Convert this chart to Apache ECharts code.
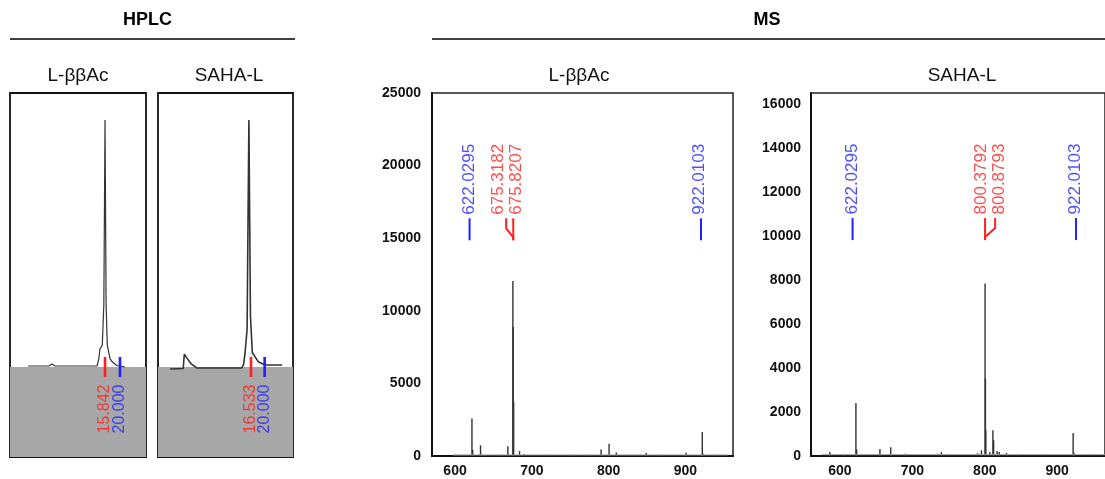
<!DOCTYPE html>
<html>
<head>
<meta charset="utf-8">
<script src="https://cdn.jsdelivr.net/npm/echarts@6/dist/echarts.min.js"></script>
<style>
  html, body { margin: 0; padding: 0; background: #fff; }
  #main { width: 1105px; height: 479px; }
</style>
</head>
<body>
<div id="main"></div>
<script>
// ---- HPLC traces (retention axis in arbitrary minutes, signal normalised to main peak) ----
const hplcTimeA   = [4.0, 8.6, 9.2, 9.9, 19.2, 19.6, 19.85, 20.36, 20.7, 20.96, 21.2, 21.46, 22.06, 22.5, 23.0, 23.54, 25.37];
const hplcSignalA = [0.0, 0.0, 0.008, 0.0, 0.0, 0.03, 0.07, 0.085, 0.25, 1.0, 0.25, 0.085, 0.03, 0.018, 0.01, 0.002, -0.004];
const hplcTimeB   = [2.67, 5.6, 5.85, 6.4, 7.3, 8.6, 18.6, 19.0, 19.33, 19.8, 20.2, 20.55, 20.96, 22.29, 23.78, 27.6];
const hplcSignalB = [-0.012, -0.01, 0.048, 0.033, 0.01, -0.008, -0.008, 0.005, 0.05, 0.15, 1.0, 0.2, 0.055, 0.017, 0.004, 0.004];
const hplcMarkA   = [20.96, 24.26];
const hplcMarkB   = [20.67, 23.7];
const hplcLabelsA = ['15.842', '20.000'];
const hplcLabelsB = ['16.533', '20.000'];

// ---- MS stick spectra ----
const msMzA  = [604, 612, 622.03, 623.0, 633.2, 640, 656, 668.8, 675.32, 675.82, 676.32, 684, 690, 720, 750, 770, 790.2, 800.6, 810, 830, 849, 870, 901, 922.01, 923, 940, 955];
const msIntA = [60, 80, 2580, 420, 740, 60, 80, 670, 12050, 8880, 3720, 340, 140, 80, 90, 80, 440, 850, 240, 90, 200, 90, 220, 1650, 150, 90, 80];
const msMzB  = [586, 605, 622.03, 623.0, 640, 655.2, 670.1, 690, 735, 740, 750, 790, 795.4, 800.38, 800.88, 801.38, 807, 811.2, 812.2, 817, 820, 830, 845, 880, 922.01, 923.0, 950];
const msIntB = [180, 60, 2410, 300, 70, 320, 400, 100, 100, 180, 90, 120, 260, 7840, 3520, 1170, 180, 1170, 714, 230, 180, 140, 80, 70, 1050, 150, 70];
const msBaseMzA = [597, 955];
const msBaseMzB = [575, 966];

// annotation labels: text, label m/z, colour index (0 red, 1 blue)
const msNotesA   = ['622.0295', '675.3182', '675.8207', '922.0103'];
const msNoteMzA  = [618.9, 656.2, 679.6, 918];
const msNoteColA = [1, 0, 0, 1];
const msNotesB   = ['622.0295', '800.3792', '800.8793', '922.0103'];
const msNoteMzB  = [617.4, 795.4, 820.1, 924.7];
const msNoteColB = [1, 0, 0, 1];
// leader lines (m/z, intensity)
const msLeadersA = [
  [[618.9, 16370], [618.9, 14855]],
  [[666.6, 16370], [666.6, 15682], [675.82, 15062], [675.82, 14855]],
  [[675.82, 16370], [675.82, 14855]],
  [[920.3, 16370], [920.3, 14855]]
];
const msLeaderColA = [1, 0, 0, 1];
const msLeadersB = [
  [[617.4, 10815], [617.4, 9815]],
  [[800.38, 10815], [800.38, 9815]],
  [[814.3, 10815], [814.3, 10360], [800.38, 9950], [800.38, 9815]],
  [[926, 10815], [926, 9815]]
];
const msLeaderColB = [1, 0, 0, 1];

const FONT = '"Liberation Sans", Arial, sans-serif';
const RED = '#ff1f1f', BLUE = '#1f1fff';
const COLS = [RED, BLUE];

const zip = (xs, ys) => xs.map((x, i) => [x, ys[i]]);

const chart = echarts.init(document.getElementById('main'));

function hplcSeries(idx, times, signal, marks, labels) {
  const out = [{
    type: 'line', xAxisIndex: idx, yAxisIndex: idx,
    data: zip(times, signal), symbol: 'none', z: 3,
    lineStyle: { color: '#333', width: idx === 0 ? 1.2 : 1.6 },
    markArea: {
      silent: true,
      itemStyle: { color: '#a7a7a7' },
      data: [[{ yAxis: -0.37 }, { yAxis: -0.004 }]]
    }
  }];
  marks.forEach((t, i) => {
    out.push({
      type: 'line', xAxisIndex: idx, yAxisIndex: idx, symbol: 'none', z: 4,
      data: [[t, 0.037], [t, -0.045]],
      lineStyle: { color: COLS[i], width: 2.6 }
    });
  });
  out.push({
    type: 'scatter', xAxisIndex: idx, yAxisIndex: idx, symbolSize: 0, z: 5,
    data: marks.map((t, i) => ({
      value: [t, -0.175], name: labels[i],
      label: { color: COLS[i] }
    })),
    label: {
      show: true, position: 'inside', rotate: 90, formatter: '{b}',
      fontSize: 16, fontFamily: FONT
    }
  });
  return out;
}

function msSeries(idx, mz, inten, baseMz, baseInt, notes, noteMz, noteCol, noteY, leaders, leaderCol) {
  const out = [{
    type: 'line', xAxisIndex: idx, yAxisIndex: idx, symbol: 'none',
    data: zip(baseMz, baseInt), lineStyle: { color: '#999', width: 1 }
  }, {
    type: 'bar', xAxisIndex: idx, yAxisIndex: idx,
    data: zip(mz, inten), barWidth: 1.4,
    itemStyle: { color: '#333' }
  }];
  leaders.forEach((pts, i) => {
    out.push({
      type: 'line', xAxisIndex: idx, yAxisIndex: idx, symbol: 'none',
      data: pts, lineStyle: { color: COLS[leaderCol[i]], width: 2 }
    });
  });
  out.push({
    type: 'scatter', xAxisIndex: idx, yAxisIndex: idx, symbolSize: 0,
    data: notes.map((n, i) => ({
      value: [noteMz[i], noteY], name: n,
      label: { color: COLS[noteCol[i]] }
    })),
    label: {
      show: true, position: 'inside', rotate: 90, formatter: '{b}',
      fontSize: 17, fontFamily: FONT
    }
  });
  return out;
}

const hiddenAxis = (idx, min, max) => ({
  type: 'value', gridIndex: idx, min: min, max: max, show: false
});

const plain = v => String(v);
const msLabelStyle = { fontSize: 14, fontWeight: 'bold', color: '#111', fontFamily: FONT, formatter: plain };

const option = {
  animation: false,
  backgroundColor: '#fff',
  title: [
    { text: 'HPLC', left: 147.5, top: 11, textAlign: 'center', padding: 0,
      textStyle: { fontSize: 18, fontWeight: 'bold', color: '#000', fontFamily: FONT } },
    { text: 'MS', left: 767, top: 11, textAlign: 'center', padding: 0,
      textStyle: { fontSize: 18, fontWeight: 'bold', color: '#000', fontFamily: FONT } },
    { text: 'L-ββAc', left: 78, top: 66, textAlign: 'center', padding: 0,
      textStyle: { fontSize: 19, fontWeight: 'normal', color: '#111', fontFamily: FONT } },
    { text: 'SAHA-L', left: 229, top: 66, textAlign: 'center', padding: 0,
      textStyle: { fontSize: 19, fontWeight: 'normal', color: '#111', fontFamily: FONT } },
    { text: 'L-ββAc', left: 579, top: 66, textAlign: 'center', padding: 0,
      textStyle: { fontSize: 19, fontWeight: 'normal', color: '#111', fontFamily: FONT } },
    { text: 'SAHA-L', left: 962, top: 66, textAlign: 'center', padding: 0,
      textStyle: { fontSize: 19, fontWeight: 'normal', color: '#111', fontFamily: FONT } }
  ],
  graphic: [
    { type: 'line', shape: { x1: 10, y1: 39, x2: 295, y2: 39 }, style: { stroke: '#000', lineWidth: 1.5 } },
    { type: 'line', shape: { x1: 432, y1: 39, x2: 1105, y2: 39 }, style: { stroke: '#000', lineWidth: 1.5 } }
  ],
  grid: [
    { left: 10, top: 93, width: 136, height: 364, show: true, borderColor: '#111', borderWidth: 1.8 },
    { left: 158, top: 93, width: 135, height: 364, show: true, borderColor: '#111', borderWidth: 1.8 },
    { left: 432, top: 93, width: 301, height: 363, show: true, borderColor: '#222', borderWidth: 1.5 },
    { left: 811, top: 93, width: 300, height: 363, show: true, borderColor: '#222', borderWidth: 1.5 }
  ],
  xAxis: [
    hiddenAxis(0, 0, 30),
    hiddenAxis(1, 0, 30),
    {
      type: 'value', gridIndex: 2, min: 570, max: 962,
      axisLine: { lineStyle: { color: '#111', width: 2 } },
      axisTick: { show: false }, splitLine: { show: false },
      axisLabel: Object.assign({ margin: 8, customValues: [600, 700, 800, 900] }, msLabelStyle)
    },
    {
      type: 'value', gridIndex: 3, min: 560, max: 966,
      axisLine: { lineStyle: { color: '#111', width: 2 } },
      axisTick: { show: false }, splitLine: { show: false },
      axisLabel: Object.assign({ margin: 8, customValues: [600, 700, 800, 900] }, msLabelStyle)
    }
  ],
  yAxis: [
    hiddenAxis(0, -0.37, 1.11),
    hiddenAxis(1, -0.37, 1.11),
    {
      type: 'value', gridIndex: 2, min: 0, max: 25000, interval: 5000,
      axisLine: { show: true, lineStyle: { color: '#111', width: 2 } },
      axisTick: { show: false }, splitLine: { show: false },
      axisLabel: Object.assign({ margin: 11 }, msLabelStyle)
    },
    {
      type: 'value', gridIndex: 3, min: 0, max: 16500,
      axisLine: { show: true, lineStyle: { color: '#111', width: 2 } },
      axisTick: { show: false }, splitLine: { show: false },
      axisLabel: Object.assign({ margin: 10,
        customValues: [0, 2000, 4000, 6000, 8000, 10000, 12000, 14000, 16000] }, msLabelStyle)
    }
  ],
  series: [].concat(
    hplcSeries(0, hplcTimeA, hplcSignalA, hplcMarkA, hplcLabelsA),
    hplcSeries(1, hplcTimeB, hplcSignalB, hplcMarkB, hplcLabelsB),
    msSeries(2, msMzA, msIntA, msBaseMzA, [70, 70], msNotesA, msNoteMzA, msNoteColA, 19056, msLeadersA, msLeaderColA),
    msSeries(3, msMzB, msIntB, msBaseMzB, [60, 60], msNotesB, msNoteMzB, msNoteColB, 12590, msLeadersB, msLeaderColB)
  )
};

chart.setOption(option);
</script>
</body>
</html>
